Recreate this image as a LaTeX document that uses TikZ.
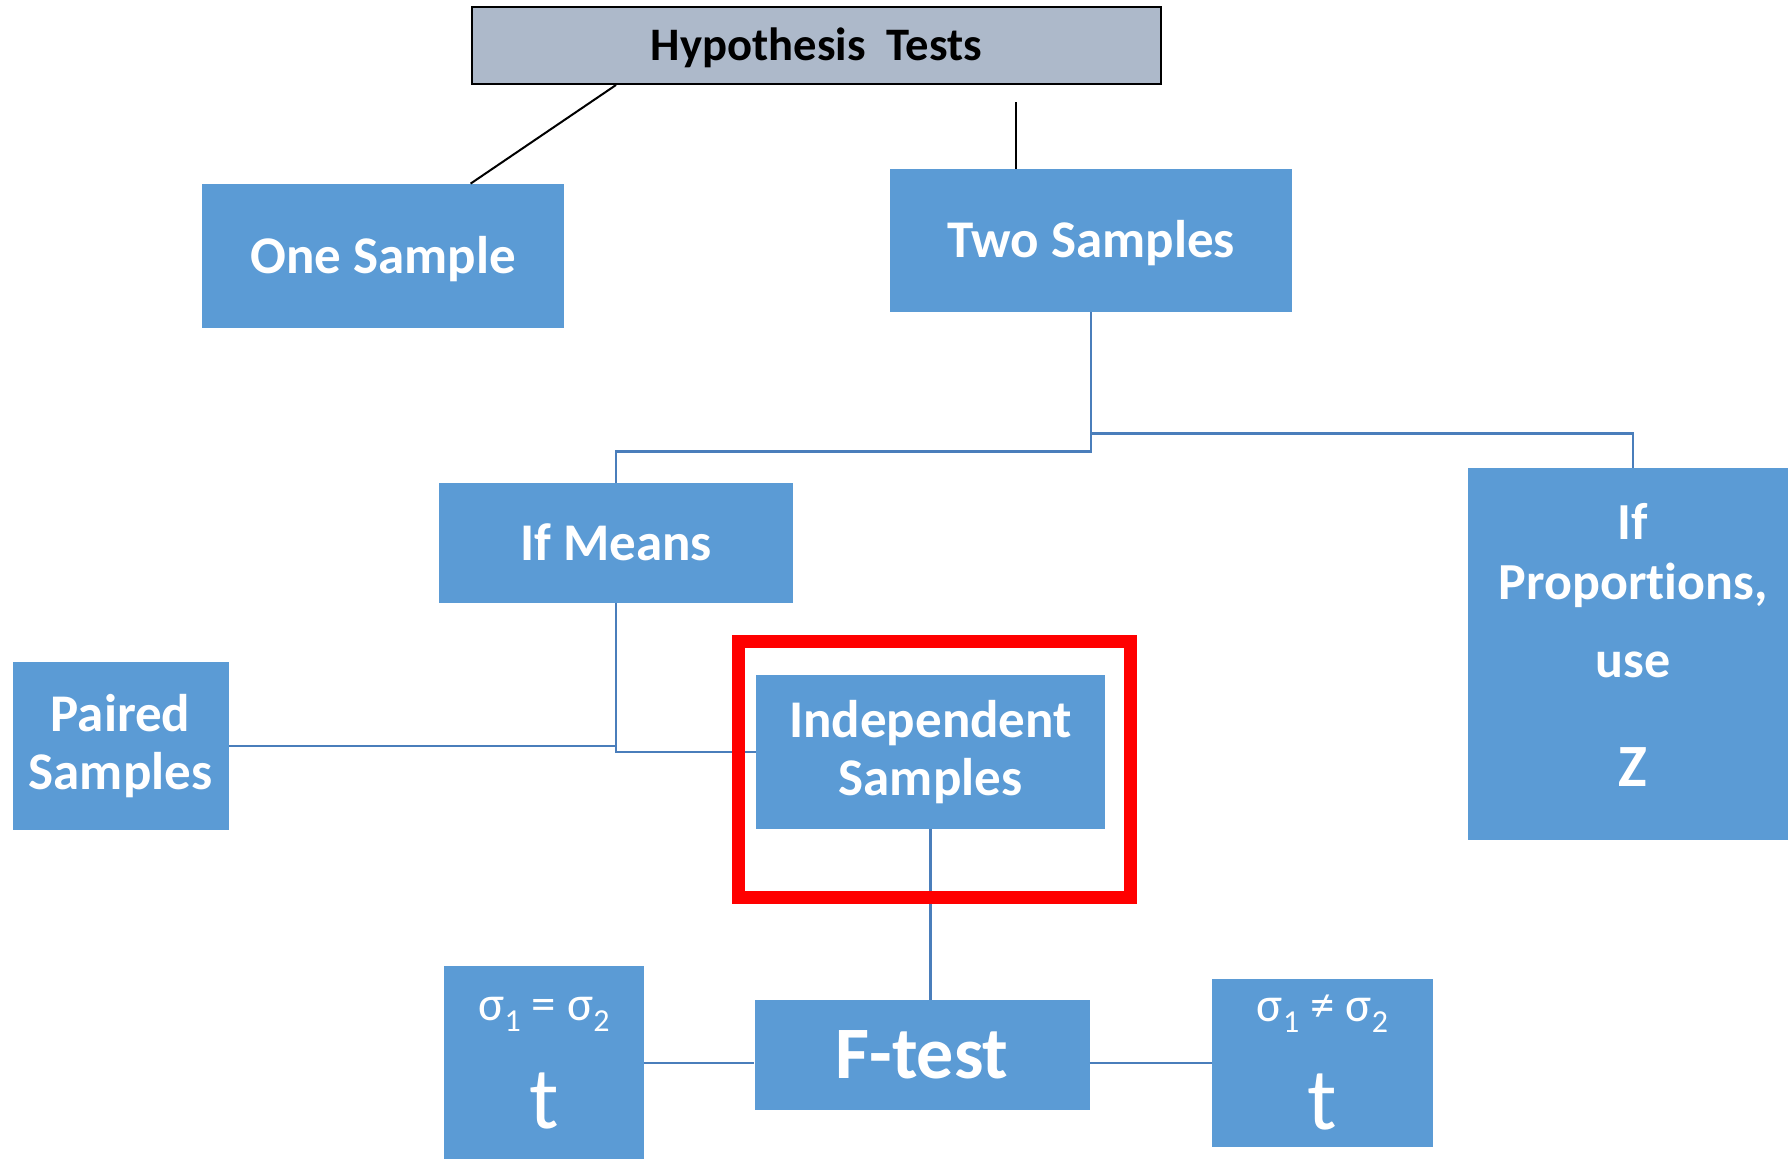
\documentclass[tikz,border=0pt]{standalone}
\usepackage{fontspec}
\setmainfont{Carlito}[Ligatures=NoCommon]
\usetikzlibrary{calc}
\definecolor{boxblue}{HTML}{5B9BD5}
\definecolor{lineblue}{HTML}{4A7EBB}
\definecolor{headfill}{HTML}{ADB9CA}
\newcommand\sbs[1]{\raisebox{-5.5pt}{\fontsize{16}{16}\selectfont #1}}
\begin{document}
\begin{tikzpicture}[x=0.5pt,y=-0.5pt,
  bbox/.style={fill=boxblue, text=white, inner sep=0pt, align=center,
    font=\bfseries\fontsize{26.5}{29}\selectfont},
  oneline/.style={text height=17.1pt, text depth=0pt},
  sigbox/.style={fill=boxblue, text=white, inner sep=0pt, align=center,
    font=\fontsize{24.5}{54}\selectfont},
  conn/.style={draw=lineblue, line width=1.25pt},
  blk/.style={draw=black, line width=1pt}]
\clip (0,0) rectangle (1788,1158);
% nodes
\node[draw=black, line width=1pt, fill=headfill, inner sep=0pt,
  minimum width=344.5pt, minimum height=38.5pt,
  font=\bfseries\fontsize{23.3}{28}\selectfont, text height=15pt, text depth=0pt]
  (ht) at (816.5,45.5) {Hypothesis~~Tests};
\node[bbox, oneline, minimum width=181pt, minimum height=72pt] (one) at (383,256) {One Sample};
\node[bbox, oneline, minimum width=201pt, minimum height=71.5pt] (two) at (1091,240.5) {Two Samples};
\node[bbox, oneline, minimum width=177pt, minimum height=60pt] (means) at (616,543) {If Means};
\node[bbox, minimum width=165pt, minimum height=186pt,
  font=\bfseries\fontsize{26}{30}\selectfont] (prop) at (1633,654)
  {If\\Proportions,\\[9pt]use\\[24.5pt]{\fontsize{30}{30}\selectfont Z}\rule[-9pt]{0pt}{9pt}};
\node[bbox, minimum width=108pt, minimum height=84pt] (paired) at (120.5,746) {Paired\\Samples};
\node[bbox, minimum width=174.5pt, minimum height=77pt] (indep) at (930.5,752) {Independent\\Samples};
\node[bbox, font=\bfseries\fontsize{37}{40}\selectfont, text height=23.8pt, text depth=0pt,
  minimum width=167.5pt, minimum height=55pt] (ftest) at (922,1055) {F-test};
\node[sigbox, minimum width=100pt, minimum height=97pt] (lsig) at (544,1063)
  {σ\sbs{1} = σ\sbs{2}\\{\fontsize{44}{44}\selectfont t}};
\node[sigbox, minimum width=110.5pt, minimum height=84pt] (rsig) at (1322.5,1063)
  {σ\sbs{1} ≠ σ\sbs{2}\\{\fontsize{44}{44}\selectfont t}};
% black connectors
\draw[blk] ([xshift=72.5pt]ht.south west) -- ([xshift=134.5pt]one.north west);
\coordinate (stub) at (1016,102);
\draw[blk] (stub) -- (stub |- two.north);
% blue connectors
\draw[conn] (two.south) -- ++(0,139) -| (means.north);
\draw[conn] ($(two.south)+(0,121)$) -| (prop.north);
\draw[conn] (means.south) |- (indep.west);
\draw[conn] (paired.east) -- (paired.east -| means.south);
\draw[conn] (indep.south) -- (indep.south |- ftest.north);
\draw[conn] (lsig.east) -- (lsig.east -| ftest.west);
\draw[conn] (ftest.east |- rsig.west) -- (rsig.west);
% highlight
\node[draw=red, line width=6.5pt, inner sep=0pt, minimum width=196pt, minimum height=128pt]
  (hl) at (934.5,769.5) {};
\end{tikzpicture}
\end{document}
